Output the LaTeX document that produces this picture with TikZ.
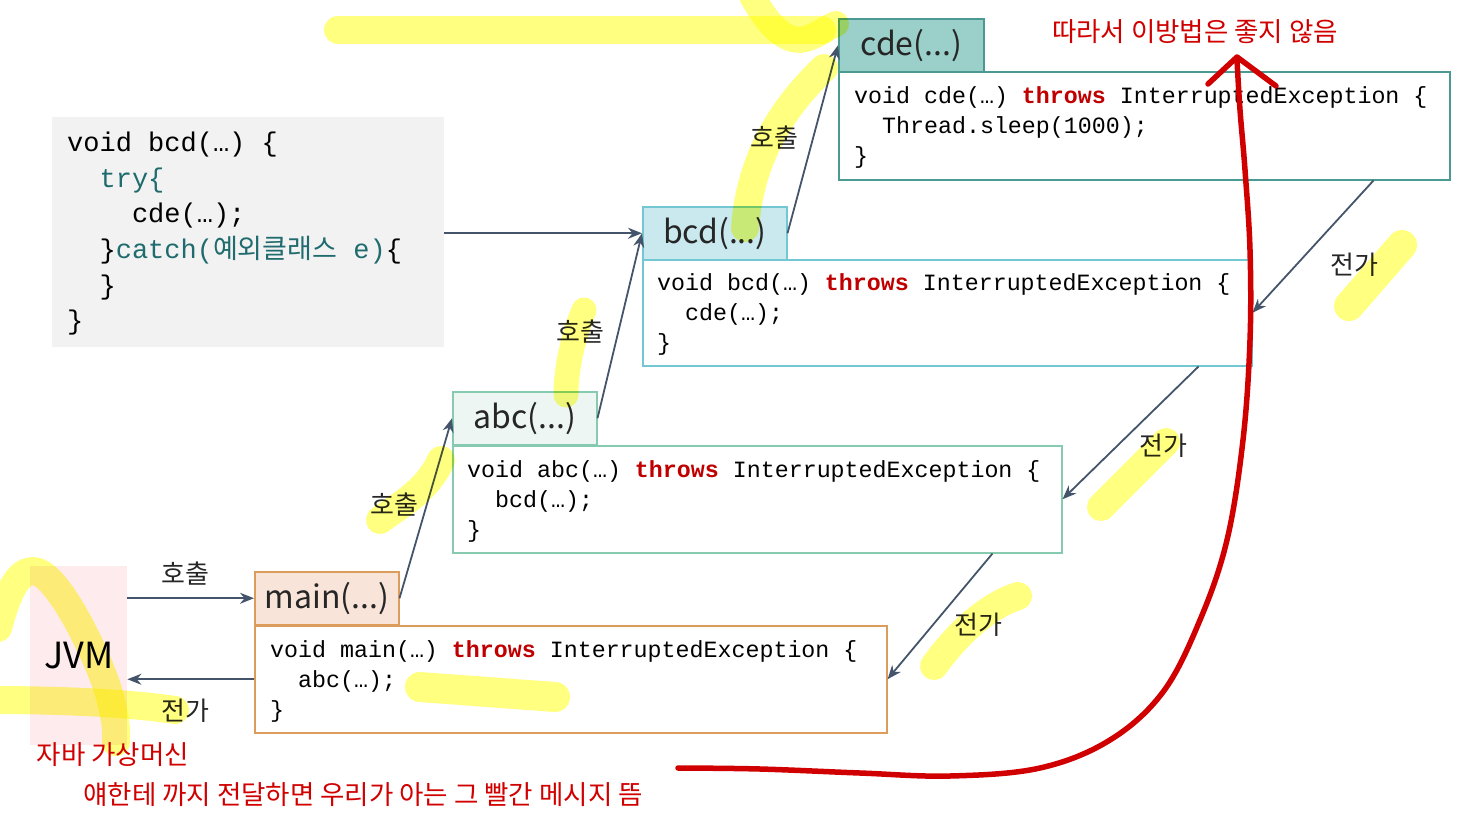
\documentclass[tikz,border=0pt]{standalone}
\usepackage{fontspec}
\setmainfont{Noto Sans CJK KR}
\newfontfamily\krfont{Noto Sans CJK KR}
\newfontfamily\codefont{Liberation Mono}
\usetikzlibrary{arrows.meta,calc}
\definecolor{graybg}{HTML}{F2F2F2}
\definecolor{cdefill}{HTML}{9ACFCA}
\definecolor{cdeline}{HTML}{4A9A93}
\definecolor{bcdfill}{HTML}{C9E9EE}
\definecolor{bcdline}{HTML}{72C7D3}
\definecolor{abcfill}{HTML}{EEF6F3}
\definecolor{abcline}{HTML}{86CBB0}
\definecolor{mainfill}{HTML}{F8E4D8}
\definecolor{mainline}{HTML}{DC9C5C}
\definecolor{jvmfill}{HTML}{FDEBEE}
\definecolor{arrowc}{HTML}{44546A}
\definecolor{codeteal}{HTML}{1F6B6E}
\definecolor{throwred}{HTML}{C00000}
\definecolor{myred}{HTML}{D00000}
\definecolor{hlyellow}{HTML}{FFFF80}
\newcommand{\thr}{\textcolor{throwred}{\bfseries throws}}
\newcommand{\ind}[1]{\phantom{#1}}
\begin{document}
\begin{tikzpicture}[x=1pt,y=-1pt,
  hdr/.style={draw, line width=1.5pt, inner sep=0, minimum width=145pt, minimum height=53pt,
    anchor=north west, font=\fontsize{32}{38}\selectfont, text=black!85},
  bodybox/.style={draw, line width=1.5pt, fill=white, anchor=north west, inner sep=0},
  codetxt/.style={anchor=north west, inner sep=0, align=left, font=\codefont\fontsize{23.3}{30}\selectfont},
  lbl/.style={font=\fontsize{26}{30}\selectfont, text=black!85, inner sep=0},
  conn/.style={draw=arrowc, line width=1.8pt, -{Stealth[length=14pt,width=11pt]}},
  hl/.style={draw=hlyellow, line width=28pt, line cap=round, line join=round, blend mode=multiply},
  redline/.style={draw=myred, line width=5.5pt, line cap=round, line join=round},
  redtxt/.style={text=myred, inner sep=0, font=\fontsize{26.5}{30}\selectfont}]
\useasboundingbox (0,0) rectangle (1464,817);

% gray code box
\node[anchor=north west, fill=graybg, inner sep=0, minimum width=392pt, minimum height=230pt] (gray) at (52,117) {};
\node[anchor=north west, inner sep=0, align=left, font=\codefont\fontsize{27}{35.6}\selectfont] (graycode) at (67,132) {%
void bcd(…) \{\\
\ind{xx}\textcolor{codeteal}{try\{}\\
\ind{xxxx}cde(…);\\
\ind{xx}\}\textcolor{codeteal}{catch({\krfont 예외클래스} e)}\{\\
\ind{xx}\}\\
\}};

% JVM
\node[anchor=north west, fill=jvmfill, inner sep=0, minimum width=97pt, minimum height=179pt,
  font=\fontsize{36}{40}\selectfont] (jvm) at (30,566) {JVM};

% headers and bodies
\node[hdr, fill=cdefill, draw=cdeline] (cdeh) at (838,18) {cde(...)};
\node[bodybox, draw=cdeline, minimum width=611pt, minimum height=108pt] (cdeb) at (838,71) {};
\node[codetxt] (cdecode) at (854,86) {void cde(…) \thr{} InterruptedException \{\\ \ind{xx}Thread.sleep(1000);\\ \}};

\node[hdr, fill=bcdfill, draw=bcdline, minimum width=144pt] (bcdh) at (642,206) {bcd(...)};
\node[bodybox, draw=bcdline, minimum width=609pt, minimum height=106pt] (bcdb) at (642,259) {};
\node[codetxt] (bcdcode) at (657,273) {void bcd(…) \thr{} InterruptedException \{\\ \ind{xx}cde(…);\\ \}};

\node[hdr, fill=abcfill, draw=abcline, minimum width=144pt] (abch) at (452,391) {abc(...)};
\node[bodybox, draw=abcline, minimum width=609pt, minimum height=107pt] (abcb) at (452,445) {};
\node[codetxt] (abccode) at (467,460) {void abc(…) \thr{} InterruptedException \{\\ \ind{xx}bcd(…);\\ \}};

\node[hdr, fill=mainfill, draw=mainline, minimum width=144pt] (mainh) at (254,571) {main(...)};
\node[bodybox, draw=mainline, minimum width=632pt, minimum height=107pt] (mainb) at (254,625) {};
\node[codetxt] (maincode) at (270,640) {void main(…) \thr{} InterruptedException \{\\ \ind{xx}abc(…);\\ \}};

% call arrows
\draw[conn] (jvm.east |- mainh.west) -- (mainh.west);
\draw[conn] (mainh.east) -- (abch.west);
\draw[conn] (abch.east) -- (bcdh.west);
\draw[conn] (gray.east |- bcdh.west) -- (bcdh.west);
\draw[conn] (bcdh.east) -- (cdeh.west);
% propagation arrows
\draw[conn] (mainb.west) -- (jvm.east |- mainb.west);
\draw[conn] ([xshift=-77pt]cdeb.south east) -- (bcdb.east);
\draw[conn] ([xshift=-54pt]bcdb.south east) -- (abcb.east);
\draw[conn] ([xshift=-70pt]abcb.south east) -- (mainb.east);

% labels
\node[lbl] (l1) at (185,574) {호출};
\node[lbl] (l2) at (185,711) {전가};
\node[lbl] (l3) at (394,505) {호출};
\node[lbl] (l4) at (580,332) {호출};
\node[lbl] (l5) at (774,138) {호출};
\node[lbl] (l6) at (1354,265) {전가};
\node[lbl] (l7) at (1163,446) {전가};
\node[lbl] (l8) at (978,625) {전가};

% red texts
\node[redtxt] (r1) at (1195,32) {따라서 이방법은 좋지 않음};
\node[redtxt] (r2) at (113,755) {자바 가상머신};
\node[redtxt] (r3) at (363,795) {얘한테 까지 전달하면 우리가 아는 그 빨간 메시지 뜸};

% red hand-drawn arrow
\draw[redline] plot[smooth, tension=0.6] coordinates {(678,768) (760,769) (860,773) (950,776) (1040,768) (1110,740) (1163,692) (1200,620) (1227,540) (1243,440) (1250,340) (1250,250) (1245,170) (1240,110) (1237,60)};
\draw[redline] (1208,84) -- (1237,57) -- (1276,86);

% yellow highlights
\draw[hl] (338,30) -- (822,30);
\draw[hl, line width=26pt] (752,-4) .. controls (770,28) and (785,40) .. (800,40) .. controls (815,38) and (826,28) .. (836,24);
\draw[hl] (745,228) .. controls (750,160) and (780,110) .. (824,68);
\draw[hl, line width=25pt] (584,310) .. controls (572,340) and (566,370) .. (566,395);
\draw[hl] (380,520) .. controls (400,505) and (428,490) .. (441,460);
\draw[hl, line width=30pt] (1349,306) -- (1402,245);
\draw[hl] (1101,507) -- (1166,442);
\draw[hl] (934,666) .. controls (960,630) and (990,605) .. (1018,596);
\draw[hl, line width=30pt] (420,687) -- (555,697);
\draw[hl] (-2,628) .. controls (8,590) and (20,566) .. (38,572) .. controls (60,580) and (95,650) .. (108,690) .. controls (115,715) and (117,730) .. (116,742);
\draw[hl] (-8,700) .. controls (50,700) and (120,702) .. (175,710);
\end{tikzpicture}
\end{document}
